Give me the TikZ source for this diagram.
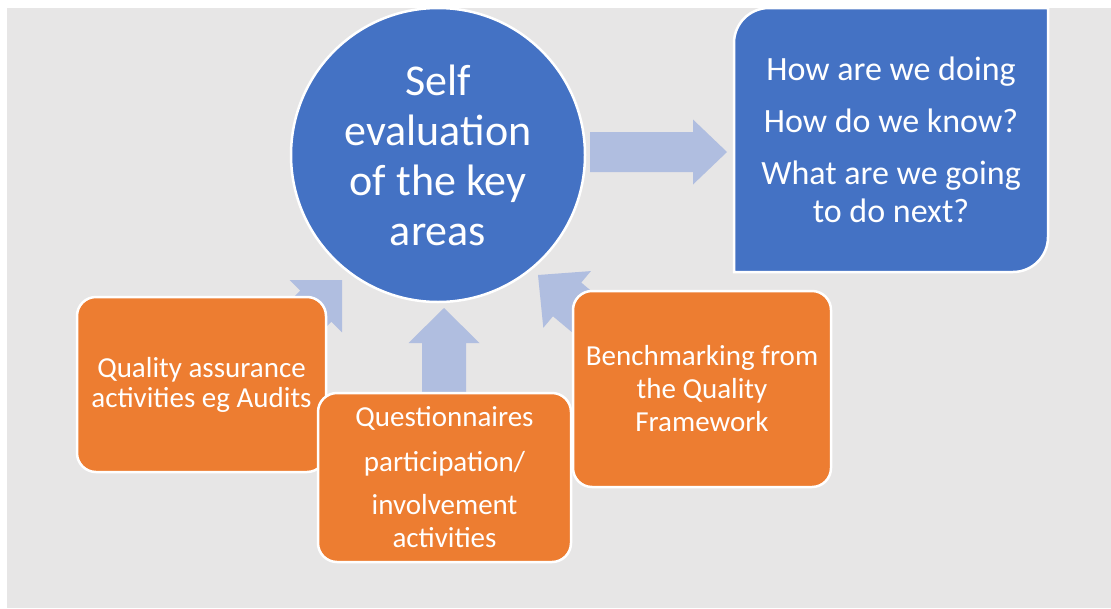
\documentclass[tikz,border=0pt]{standalone}
\usepackage{fontspec}
\setmainfont{Carlito}
\usetikzlibrary{positioning}
\definecolor{bggrey}{HTML}{E7E6E6}
\definecolor{keyblue}{HTML}{4472C4}
\definecolor{keyorange}{HTML}{ED7D31}
\definecolor{arrowblue}{HTML}{B0BEE0}
\tikzset{
  orangebox/.style={rectangle,rounded corners=19pt,fill=keyorange,draw=white,line width=2.5pt,
    text=white,align=center,inner sep=0pt,font=\fontsize{29}{33}\selectfont},
  keycircle/.style={circle,fill=keyblue,draw=white,line width=2.5pt,minimum size=294pt,inner sep=0pt,
    text=white,align=center,font=\fontsize{44}{50}\selectfont},
  pics/blockarrow/.style n args={4}{code={%
    % #1 length, #2 shaft width, #3 head width, #4 head length
    \fill[arrowblue] (0,0) -- (-#4,#3/2) -- (-#4,#2/2) -- (-#1,#2/2)
      -- (-#1,-#2/2) -- (-#4,-#2/2) -- (-#4,-#3/2) -- cycle;
  }}
}
\begin{document}
\begin{tikzpicture}[x=1pt,y=1pt]
\useasboundingbox (0,0) rectangle (1111,-608);
\fill[bggrey] (7,-8) rectangle (1111,-608);
%
% block arrows (behind the boxes)
\pic at (727,-152) {blockarrow={137}{40}{65}{34}};
\pic[rotate=90] at (444,-308) {blockarrow={95}{44}{71}{35}};
\pic[rotate=45] at (342,-280) {blockarrow={110}{44}{74}{37}};
\pic[rotate=140] at (538,-275) {blockarrow={110}{44}{74}{38}};
%
\node (self) [keycircle] at (438,-155) {Self\\evaluation\\of the key\\areas};
%
% question box, rounded at two corners only
\filldraw[keyblue,draw=white,line width=2.5pt] (734,-272) -- (734,-43)
  arc[start angle=180,end angle=90,radius=35] -- (1048,-8) -- (1048,-237)
  arc[start angle=0,end angle=-90,radius=35] -- cycle;
\node (ask) [text=white,align=center,font=\fontsize{34}{38}\selectfont] at (891,-140)
  {How are we doing\\[14pt]How do we know?\\[14pt]What are we going\\to do next?};
%
\node (audit) [orangebox,minimum width=249pt,minimum height=175pt] at (201.5,-384.5)
  {\raisebox{-3pt}{Quality assurance}\\activities eg Audits};
\node (bench) [orangebox,minimum width=258pt,minimum height=196pt] at (702,-389)
  {Benchmarking from\\the Quality\\Framework};
\node (quest) [orangebox,minimum width=253pt,minimum height=169pt] at (444.5,-477.5)
  {Questionnaires\\[12pt]participation/\\[10pt]involvement\\activities};
\end{tikzpicture}
\end{document}
